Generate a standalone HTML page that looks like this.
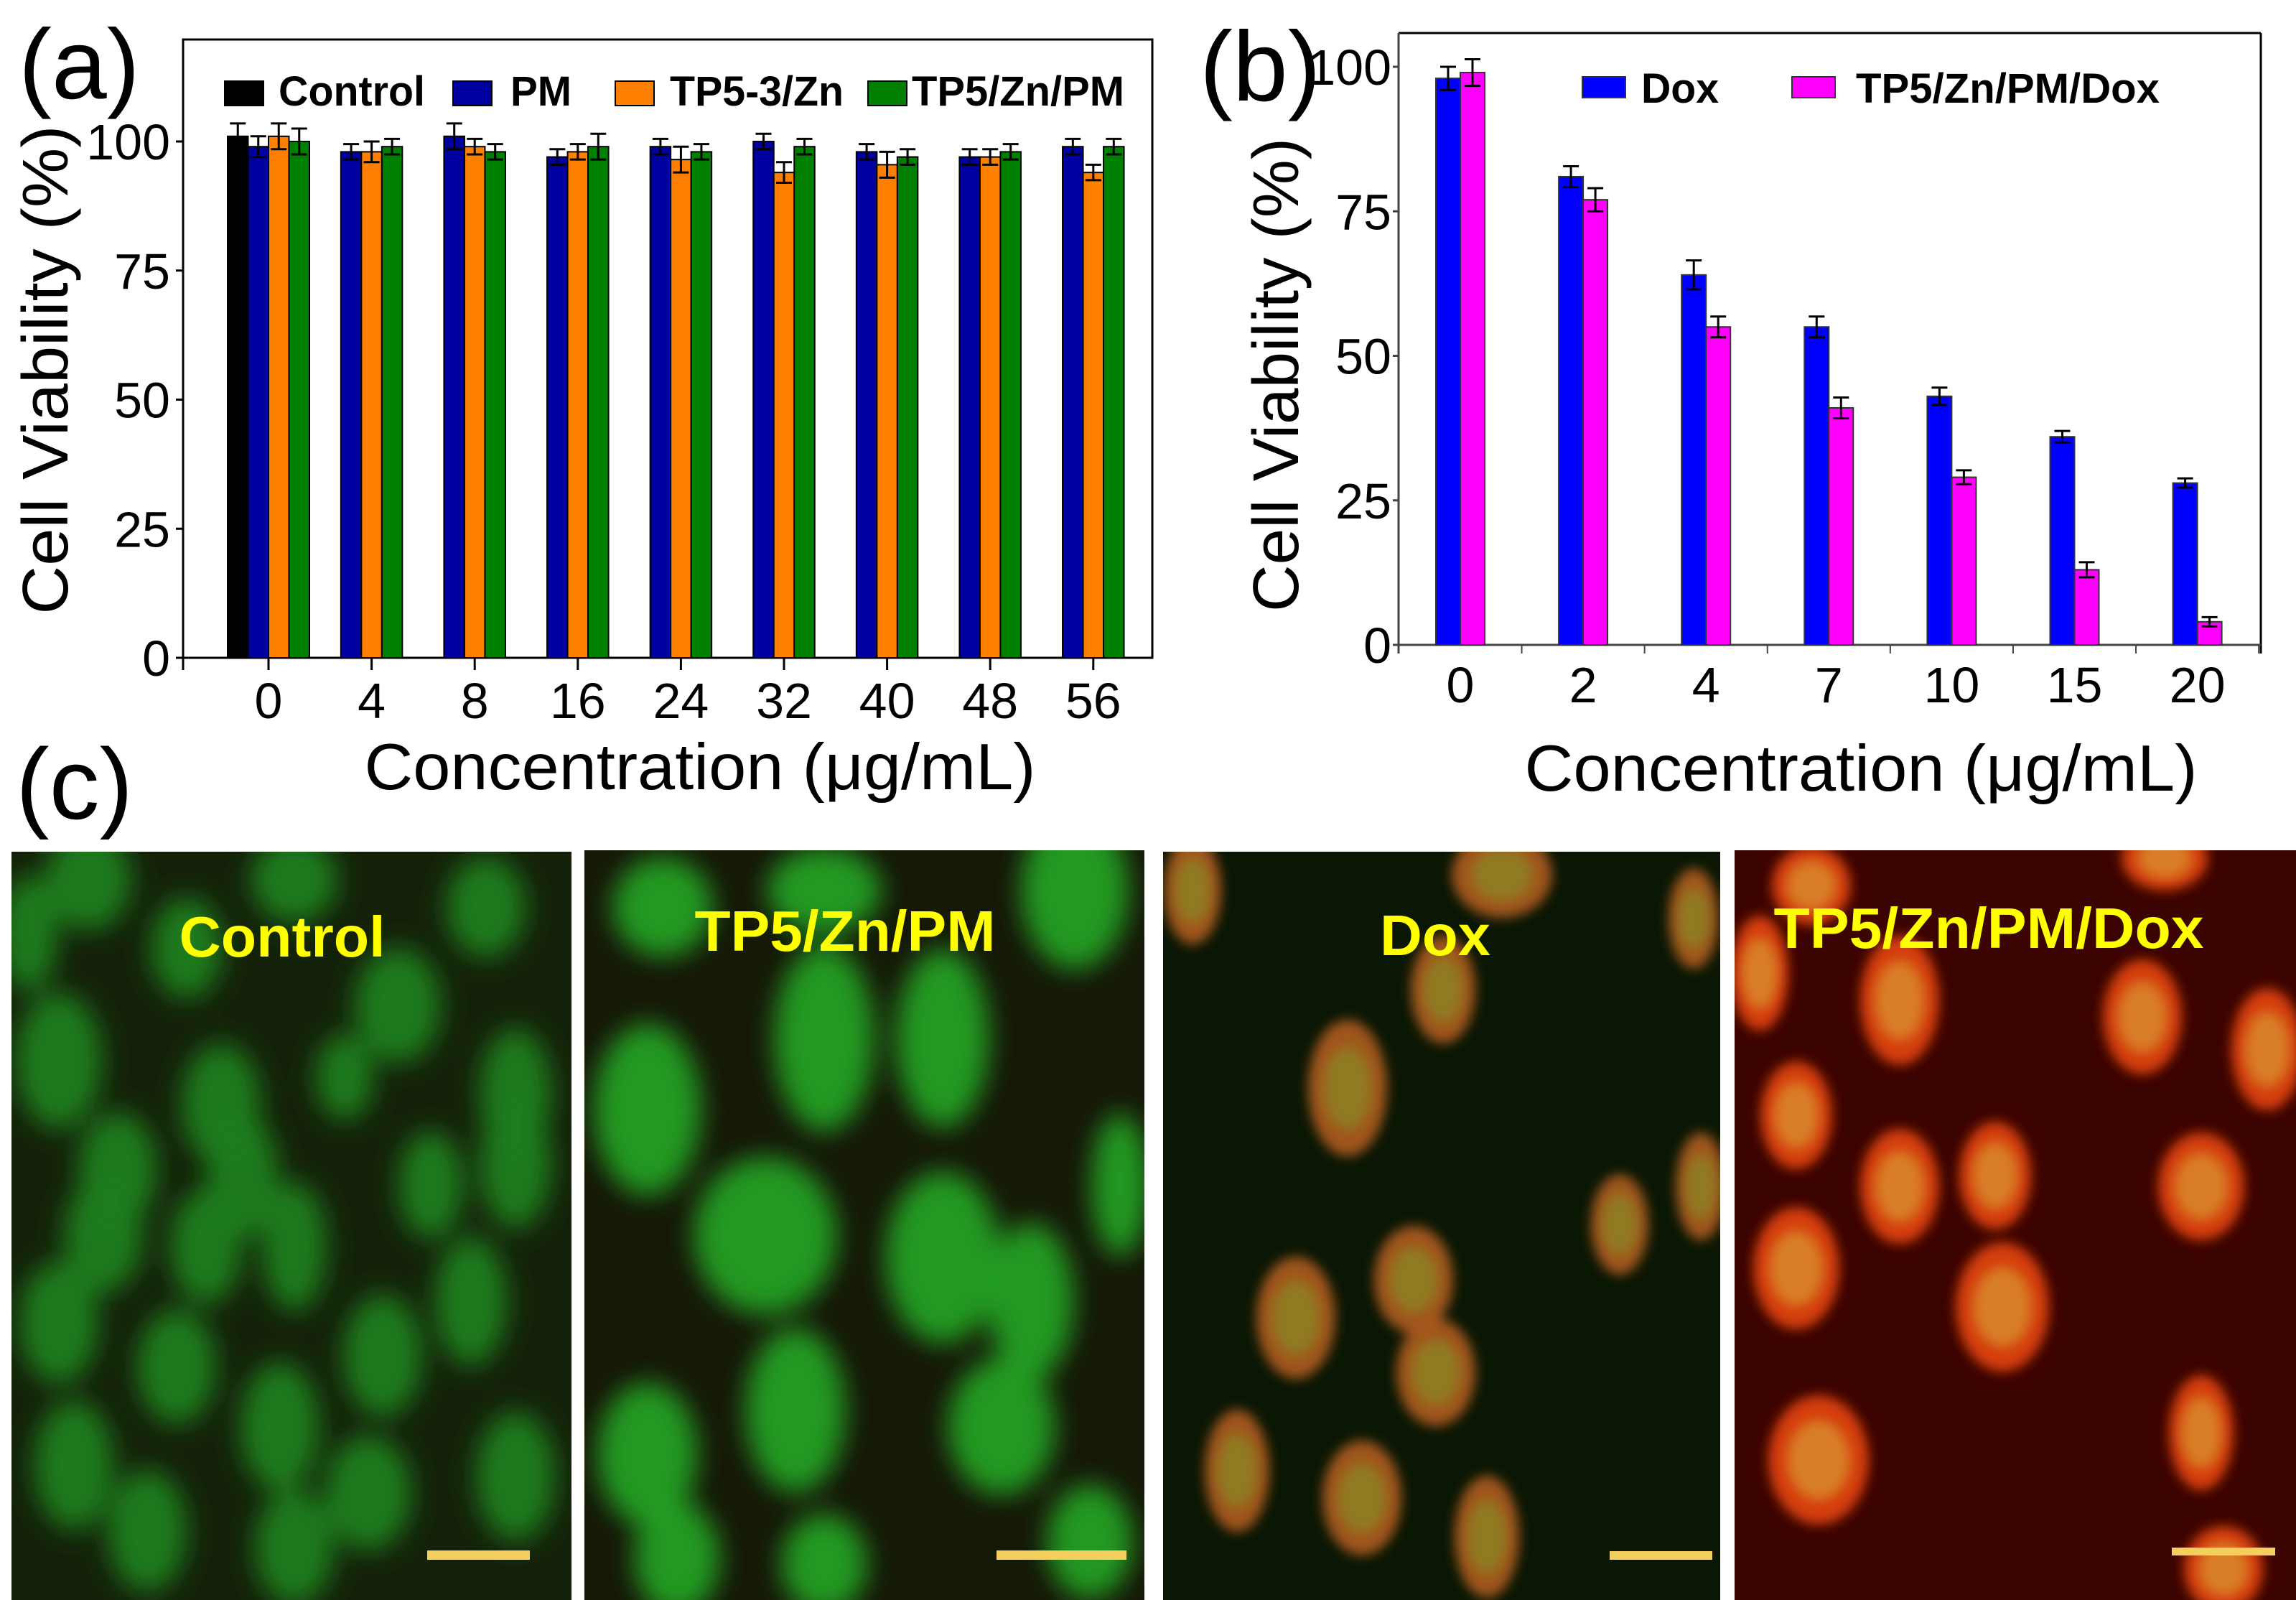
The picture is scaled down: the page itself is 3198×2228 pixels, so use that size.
<!DOCTYPE html>
<html><head><meta charset="utf-8"><style>
html,body{margin:0;padding:0;background:#fff;}
svg{display:block;font-family:"Liberation Sans",Arial,sans-serif;}
</style></head><body>
<svg id="fig" width="3198" height="2228" viewBox="0 0 3198 2228" xmlns="http://www.w3.org/2000/svg">
<defs>
<filter id="blur1" x="-50%" y="-50%" width="200%" height="200%"><feGaussianBlur stdDeviation="18"/></filter>
<filter id="blur2" x="-50%" y="-50%" width="200%" height="200%"><feGaussianBlur stdDeviation="8"/></filter>
<clipPath id="c1"><rect x="16" y="1186" width="780" height="1042"/></clipPath>
<clipPath id="c2"><rect x="814" y="1184" width="780" height="1044"/></clipPath>
<clipPath id="c3"><rect x="1620" y="1186" width="776" height="1042"/></clipPath>
<clipPath id="c4"><rect x="2416" y="1184" width="782" height="1044"/></clipPath>
</defs>
<g id="panelA"></g>
<g id="panelB"></g>
<g id="panelC"></g>
</svg>
<script>
// ---------- Panel (a) data ----------
const catsA = ["0","4","8","16","24","32","40","48","56"];
const controlA = [101, null, null, null, null, null, null, null, null];
const controlErrA = [2.5, null, null, null, null, null, null, null, null];
const pmA = [99, 98, 101, 97, 99, 100, 98, 97, 99];
const pmErrA = [2, 1.5, 2.5, 1.5, 1.5, 1.5, 1.5, 1.5, 1.5];
const tp53A = [101, 98, 99, 98, 96.5, 94, 95.5, 97, 94];
const tp53ErrA = [2.5, 2, 1.5, 1.5, 2.5, 2, 2.5, 1.5, 1.5];
const tpZnPmA = [100, 99, 98, 99, 98, 99, 97, 98, 99];
const tpZnPmErrA = [2.5, 1.5, 1.5, 2.5, 1.5, 1.5, 1.5, 1.5, 1.5];
const yTicksA = [0, 25, 50, 75, 100];
const yTickLabelsA = ["0","25","50","75","100"];

// ---------- Panel (b) data ----------
const catsB = ["0","2","4","7","10","15","20"];
const doxB = [98, 81, 64, 55, 43, 36, 28];
const doxErrB = [2, 1.8, 2.5, 1.8, 1.5, 1, 0.8];
const tpDoxB = [99, 77, 55, 41, 29, 13, 4];
const tpDoxErrB = [2.3, 2, 1.8, 1.8, 1.2, 1.3, 0.8];
const yTicksB = [0, 25, 50, 75, 100];
const yTickLabelsB = ["0","25","50","75","100"];

const NS = "http://www.w3.org/2000/svg";
function mk(tag, attrs, parent){
  const e = document.createElementNS(NS, tag);
  for (const k in attrs) e.setAttribute(k, attrs[k]);
  parent.appendChild(e);
  return e;
}
function txt(parent, s, attrs){ const t = mk("text", attrs, parent); t.textContent = s; return t; }

// ---------- Panel A ----------
(function(){
  const g = document.getElementById("panelA");
  const L=255, R=1605, T=55, B=916;
  const yA = v => B - v*7.19;
  const xA = i => 374 + i*143.6;
  const bw = 28.5;
  const frame = mk("rect",{x:L,y:T,width:R-L,height:B-T,fill:"none",stroke:"#000","stroke-width":3},g);
  
  
  mk("line",{x1:L,y1:B,x2:L,y2:933,stroke:"#000","stroke-width":3},g);
  yTicksA.forEach((v,i)=>{
    const tk = mk("line",{x1:L-10,y1:yA(v),x2:L,y2:yA(v),stroke:"#000","stroke-width":3},g);
    
    
    const t = txt(g, yTickLabelsA[i], {x:237,y:yA(v)+25,"font-size":70,"text-anchor":"end"});
    
    
  });
  const series = [
    {vals:controlA, err:controlErrA, color:"#000000", name:"control"},
    {vals:pmA, err:pmErrA, color:"#0000a0", name:"pm"},
    {vals:tp53A, err:tp53ErrA, color:"#ff8000", name:"tp5-3-zn"},
    {vals:tpZnPmA, err:tpZnPmErrA, color:"#008000", name:"tp5-zn-pm"}
  ];
  catsA.forEach((c,i)=>{
    const cx = xA(i);
    const tk = mk("line",{x1:cx,y1:B,x2:cx,y2:933,stroke:"#000","stroke-width":3},g);
    
    
    const t = txt(g, c, {x:cx,y:1000,"font-size":70,"text-anchor":"middle"});
    
    
    const present = series.filter(s=>s.vals[i]!==null && s.vals[i]!==undefined);
    const start = cx - present.length*bw/2;
    present.forEach((s,j)=>{
      const v = s.vals[i], x = start + j*bw;
      const r = mk("rect",{x:x,y:yA(v),width:bw,height:B-yA(v),fill:s.color,stroke:"#000","stroke-width":2},g);
      
      
      const e = s.err[i], mx = x+bw/2;
      const eb = mk("path",{d:`M${mx-11},${yA(v+e)}H${mx+11}M${mx},${yA(v+e)}V${yA(v-e)}M${mx-11},${yA(v-e)}H${mx+11}`,stroke:"#000","stroke-width":3,fill:"none"},g);
      
      
    });
  });
  const leg = [
    {sx:313,color:"#000000",label:"Control",tx:388,tw:204},
    {sx:631,color:"#0000a0",label:"PM",tx:711,tw:85},
    {sx:857,color:"#ff8000",label:"TP5-3/Zn",tx:933,tw:242},
    {sx:1209,color:"#008000",label:"TP5/Zn/PM",tx:1270,tw:296}
  ];
  leg.forEach(l=>{
    const s = mk("rect",{x:l.sx,y:113,width:54,height:34,fill:l.color,stroke:"#000","stroke-width":2},g);
    
    
    const t = txt(g, l.label, {x:l.tx,y:147,"font-size":58,"font-weight":"bold",textLength:l.tw,lengthAdjust:"spacingAndGlyphs"});
    
    
  });
  const yt = txt(g,"Cell Viability (%)",{x:0,y:0,"font-size":90,"text-anchor":"middle",textLength:681,lengthAdjust:"spacingAndGlyphs",transform:"translate(94,515) rotate(-90)"});
  
  
  const xt = txt(g,"Concentration (μg/mL)",{x:975,y:1099,"font-size":91,"text-anchor":"middle",textLength:935,lengthAdjust:"spacingAndGlyphs"});
  
  
  const pl = txt(g,"(a)",{x:26,y:137,"font-size":138});
  
  
})();

// ---------- Panel B ----------
(function(){
  const g = document.getElementById("panelB");
  const L=1948, R=3149, T=46, B=898;
  const yB = v => B - v*8.05;
  const step = 171.1;
  const xB = i => 2034 + i*step;
  const bw = 34;
  mk("line",{x1:L,y1:T,x2:R,y2:T,stroke:"#000","stroke-width":3},g);
  mk("line",{x1:R,y1:T,x2:R,y2:B+12,stroke:"#000","stroke-width":3},g);
  const ax = mk("line",{x1:L,y1:T,x2:L,y2:B+12,stroke:"#444","stroke-width":3},g);
  
  
  const xa = mk("line",{x1:L,y1:B,x2:R,y2:B,stroke:"#444","stroke-width":3},g);
  
  
  yTicksB.forEach((v,i)=>{
    mk("line",{x1:L-8,y1:yB(v),x2:L,y2:yB(v),stroke:"#444","stroke-width":3},g);
    const t = txt(g, yTickLabelsB[i], {x:1938,y:yB(v)+25,"font-size":70,"text-anchor":"end"});
    
    
  });
  for (let i=0;i<=catsB.length;i++){
    const bx = xB(i)-step/2;
    mk("line",{x1:bx,y1:B,x2:bx,y2:B+12,stroke:"#444","stroke-width":2},g);
  }
  const series = [
    {vals:doxB, err:doxErrB, color:"#0000ff", name:"dox"},
    {vals:tpDoxB, err:tpDoxErrB, color:"#ff00ff", name:"tp5-zn-pm-dox"}
  ];
  catsB.forEach((c,i)=>{
    const cx = xB(i);
    const t = txt(g, c, {x:cx,y:978,"font-size":70,"text-anchor":"middle"});
    
    
    series.forEach((s,j)=>{
      const v = s.vals[i], x = cx - bw + j*bw;
      const r = mk("rect",{x:x,y:yB(v),width:bw,height:B-yB(v),fill:s.color,stroke:"#333","stroke-width":2},g);
      
      
      const e = s.err[i], mx = x+bw/2;
      const eb = mk("path",{d:`M${mx-11},${yB(v+e)}H${mx+11}M${mx},${yB(v+e)}V${yB(v-e)}M${mx-11},${yB(v-e)}H${mx+11}`,stroke:"#000","stroke-width":3,fill:"none"},g);
      
      
    });
  });
  const leg = [
    {sx:2204,color:"#0000ff",label:"Dox",tx:2286,tw:108},
    {sx:2496,color:"#ff00ff",label:"TP5/Zn/PM/Dox",tx:2585,tw:423}
  ];
  leg.forEach(l=>{
    const s = mk("rect",{x:l.sx,y:107,width:60,height:29,fill:l.color,stroke:"#333","stroke-width":2},g);
    
    
    const t = txt(g, l.label, {x:l.tx,y:143,"font-size":58,"font-weight":"bold",textLength:l.tw,lengthAdjust:"spacingAndGlyphs"});
    
    
  });
  const yt = txt(g,"Cell Viability (%)",{x:0,y:0,"font-size":90,"text-anchor":"middle",textLength:660,lengthAdjust:"spacingAndGlyphs",transform:"translate(1808,522) rotate(-90)"});
  
  
  const xt = txt(g,"Concentration (μg/mL)",{x:2592,y:1101,"font-size":91,"text-anchor":"middle",textLength:937,lengthAdjust:"spacingAndGlyphs"});
  
  
  const pl = txt(g,"(b)",{x:1671,y:140,"font-size":138});
  
  
})();
</script>
<script>
// ---------- Panel C (micrographs, decorative) ----------
(function(){
  const g = document.getElementById("panelC");
  const NS="http://www.w3.org/2000/svg";
  function mk(tag, attrs, parent){ const e=document.createElementNS(NS,tag); for(const k in attrs) e.setAttribute(k,attrs[k]); parent.appendChild(e); return e; }
  const pl = mk("text",{x:22,y:1140,"font-size":140},g); pl.textContent="(c)";
  
  
  const panels = [
    {x:16,y:1186,w:780,h:1042,bg:"#15220a",clip:"c1",label:"Control",lx:393,ly:1332,lw:287,
     sb:[595,2159,143,13], fill:"#1f7f1c", inner:null, filt:"blur1",
     cells:[[82,1477,60,95],[308,1538,55,85],[554,1400,60,80],[164,1629,55,80],[338,1637,50,85],[718,1522,50,90],[144,1720,55,80],[287,1736,50,80],[410,1736,45,90],[718,1621,50,90],[82,1842,55,85],[246,1903,55,80],[533,1888,55,85],[656,1812,50,90],[390,1987,55,90],[103,2040,55,90],[513,2079,60,80],[718,2056,55,90],[205,2132,55,85],[410,2155,55,80],[123,1225,60,70],[410,1225,60,60],[677,1263,55,70],[600,1650,45,75],[260,1320,50,70],[40,1300,40,80],[480,1500,40,60]]},
    {x:814,y:1184,w:780,h:1044,bg:"#161808",clip:"c2",label:"TP5/Zn/PM",lx:1177,ly:1324,lw:419,
     sb:[1388,2159,181,13], fill:"#22a022", inner:null, filt:"blur1",
     cells:[[1148,1446,70,130],[1313,1446,65,125],[902,1545,75,120],[1497,1240,75,110],[1066,1721,100,110],[1313,1751,80,120],[1436,1812,60,110],[1108,1964,70,115],[902,2025,70,100],[1395,1987,75,95],[943,2170,60,80],[1148,2178,60,70],[1518,2147,60,80],[923,1263,70,70],[1148,1240,80,60],[1560,1650,40,100]]},
    {x:1620,y:1186,w:776,h:1042,bg:"#0b1705",clip:"c3",label:"Dox",lx:1999,ly:1330,lw:154,
     sb:[2242,2160,143,12], fill:"#a8581a", inner:"#8a8a28", filt:"blur2",
     cells:[[1877,1515,55,95],[2010,1378,45,75],[1805,1835,55,85],[1969,1782,55,75],[2000,1911,55,75],[2256,1705,40,70],[2369,1652,35,75],[1723,2048,45,85],[1897,2086,55,80],[2071,2140,45,85],[1661,1240,40,75],[2092,1218,70,60],[2359,1279,35,70]]},
    {x:2416,y:1184,w:782,h:1044,bg:"#3c0400",clip:"c4",label:"TP5/Zn/PM/Dox",lx:2770,ly:1320,lw:599,
     sb:[3025,2155,144,11], fill:"#dd4010", inner:"#d89a30", filt:"blur2",
     cells:[[2646,1393,55,90],[2984,1416,55,80],[3158,1461,50,85],[2502,1553,50,75],[2646,1652,55,80],[2779,1637,50,75],[3066,1652,60,75],[2502,1766,60,85],[2789,1820,65,90],[2533,2033,70,90],[3066,1995,45,80],[3097,2185,55,60],[2451,1355,40,80],[2523,1233,55,55],[3015,1195,60,45]]}
  ];
  panels.forEach((p,pi)=>{
    const grp = mk("g",{"clip-path":`url(#${p.clip})`},g);
    
    
    mk("rect",{x:p.x,y:p.y,width:p.w,height:p.h,fill:p.bg},grp);
    const cg = mk("g",{filter:`url(#${p.filt})`},grp);
    p.cells.forEach(c=>{
      mk("ellipse",{cx:c[0],cy:c[1],rx:c[2],ry:c[3],fill:p.fill,opacity:0.95},cg);
      if(p.inner) mk("ellipse",{cx:c[0],cy:c[1],rx:c[2]*0.6,ry:c[3]*0.6,fill:p.inner,opacity:0.7},cg);
    });
    const sb = mk("rect",{x:p.sb[0],y:p.sb[1],width:p.sb[2],height:p.sb[3],fill:"#f5cf5e"},grp);
    
    
    const t = mk("text",{x:p.lx,y:p.ly,"font-size":80,"font-weight":"bold",fill:"#ffff00","text-anchor":"middle",textLength:p.lw,lengthAdjust:"spacingAndGlyphs"},grp);
    t.textContent = p.label;
    
    
  });
})();
</script>
</body></html>
